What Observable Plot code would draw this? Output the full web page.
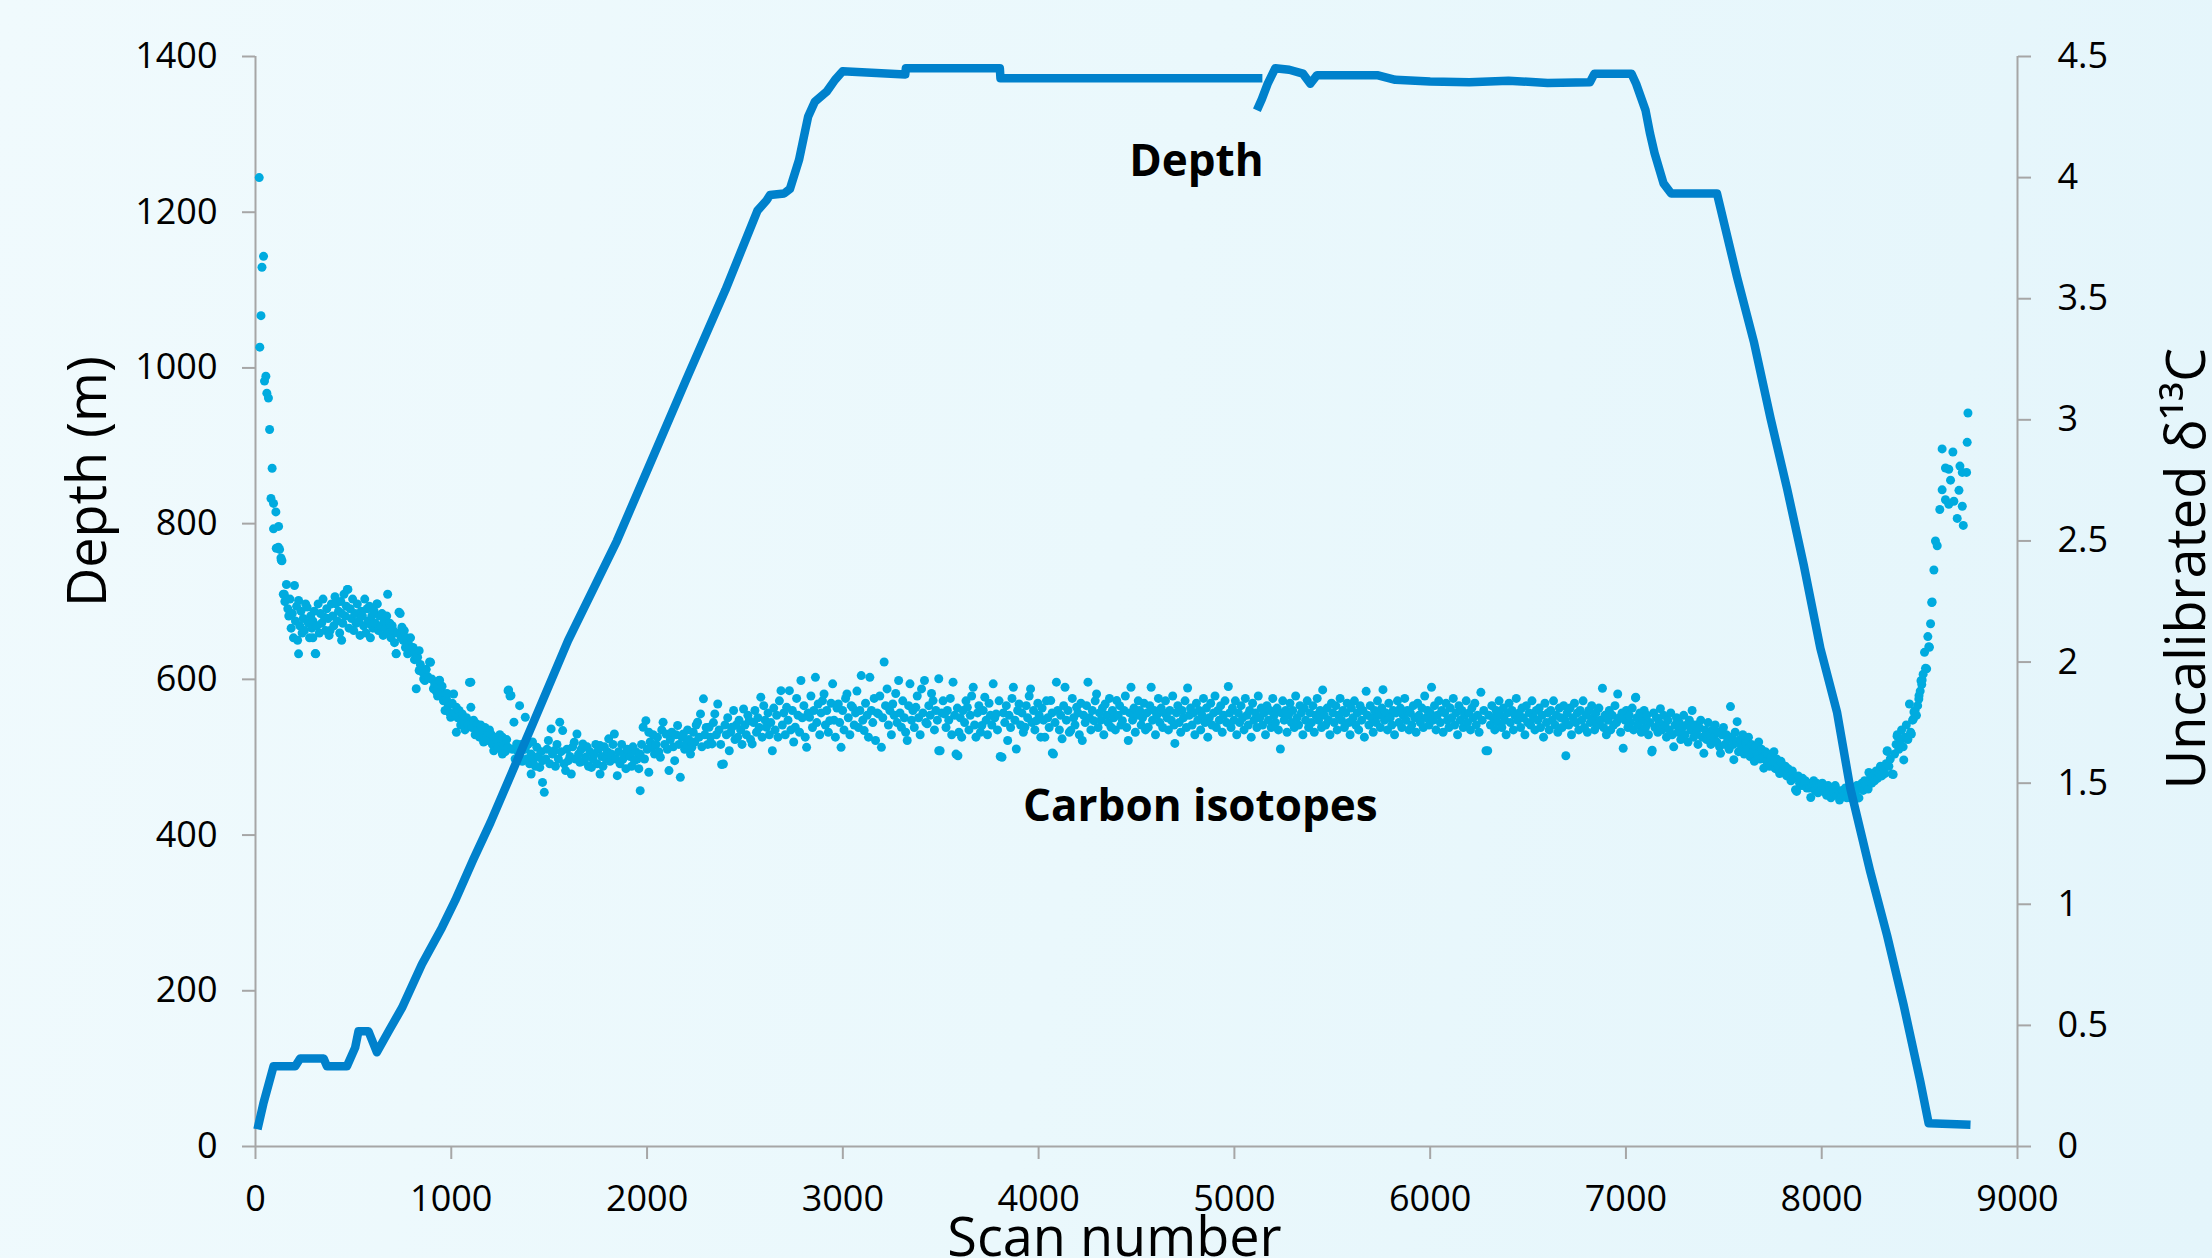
<!DOCTYPE html>
<html><head><meta charset="utf-8">
<script src="https://cdn.jsdelivr.net/npm/d3@7"></script>
<script src="https://cdn.jsdelivr.net/npm/@observablehq/plot@0.6"></script>
<style>
html,body{margin:0;padding:0;overflow:hidden;width:2212px;height:1258px;background:linear-gradient(100deg,#f0fafd 0%,#eaf8fc 50%,#e4f5fb 100%);}
#chart svg{display:block}
</style></head><body><div id="chart"></div>
<script>
// ---- tick values ----
const xTicks = [0,1000,2000,3000,4000,5000,6000,7000,8000,9000];
const depthTicks = [0,200,400,600,800,1000,1200,1400];
const isoTicks = [0,0.5,1,1.5,2,2.5,3,3.5,4,4.5];

// ---- depth trace (scan number, depth in m, trace part) ----
const depthScan = [10,40,92,203,228,348,365,467,509,526,577,620,680,748,850,952,1020,1113,1200,1420,1597,1846,2000,2200,2400,2564,2610,2628,2700,2730,2776,2823,2857,2918,2960,2999,3319,3322,3802,3805,5143,
  5115,5140,5170,5209,5280,5350,5388,5422,5729,5822,6000,6200,6400,6600,6816,6839,7028,7052,7100,7123,7146,7192,7231,7465,7568,7653,7738,7823,7908,7993,8078,8146,8248,8334,8419,8504,8546,8760];
const depthValue = [22,55,103,103,113,113,103,103,127,148,148,121,148,178,234,281,316,369,416,545,650,778,868,985,1100,1202,1215,1222,1224,1230,1267,1323,1342,1355,1370,1381,1377,1385,1385,1372,1372,
  1331,1345,1365,1385,1383,1378,1365,1376,1376,1370,1368,1367,1369,1366,1367,1378,1378,1365,1331,1301,1276,1237,1224,1224,1116,1034,936,845,747,640,558,460,353,271,181,83,30,28];
const depthPart = depthScan.map((s, i) => i < 41 ? "a" : "b");

// ---- carbon isotopes [scan, uncalibrated d13C] ----
const isoDrop = [[19,4.0],[22,3.30],[28,3.43],[33,3.63],[41,3.675],[46,3.16],[53,3.18],[58,3.11],[66,3.09],[72,2.96],[79,2.675],[85,2.80],[92,2.655],[92,2.55],[104,2.62],[106,2.47],[117,2.474],[118,2.56],[123,2.465],[130,2.43],[132,2.42],[135,2.418]];
const isoShelf = [[142,2.28],[147,2.28],[150,2.25],[158,2.32],[165,2.22],[170,2.19],[176,2.26],[182,2.14],[188,2.20],[194,2.10],[199,2.316],[204,2.17],[210,2.23],[215,2.09],[220,2.254],[220,2.034],[226,2.15],[232,2.21],[238,2.12],[244,2.18],[250,2.13],[256,2.24],[264,2.227],[270,2.16],[276,2.10],[282,2.19],[288,2.14],[293,2.17],[293,2.10],[300,2.21],[305,2.035],[308,2.034],[314,2.15],[320,2.24],[326,2.12],[332,2.20],[338,2.16],[345,2.26],[352,2.185],[358,2.13],[364,2.22],[370,2.18],[376,2.11],[381,2.13],[388,2.24],[394,2.19],[400,2.15],[406,2.27],[411,2.24],[418,2.17],[424,2.21],[430,2.12],[436,2.25],[440,2.20],[440,2.09],[446,2.16],[452,2.28],[458,2.19],[464,2.23],[469,2.30],[472,2.30],[478,2.14],[484,2.22],[490,2.18],[496,2.26],[502,2.13],[508,2.20],[514,2.16],[520,2.24],[528,2.17],[534,2.11],[540,2.21],[546,2.19],[552,2.15],[558,2.26],[564,2.12],[570,2.22],[576,2.17],[582,2.23],[587,2.157],[587,2.10],[594,2.19],[600,2.14],[606,2.21],[612,2.16],[620,2.24],[622,2.24],[628,2.13],[634,2.19],[640,2.15],[646,2.20],[652,2.11],[658,2.17],[664,2.14],[670,2.19],[675,2.28],[680,2.12],[686,2.16],[692,2.10],[698,2.15],[704,2.13],[710,2.08],[718,2.034],[719,2.035],[724,2.12],[733,2.206],[739,2.20],[744,2.10],[748,2.144],[754,2.09],[760,2.13],[766,2.06],[772,2.10],[777,2.034],[785,2.07],[792,2.10],[798,2.04],[805,2.06],[812,2.01],[816,2.04],[821,1.89]];
const isoDecline = [[828,2.02],[836,2.047],[836,1.965],[842,1.99],[850,1.96],[859,1.93],[865,1.924],[872,1.97],[880,1.94],[889,2.0],[894,1.999],[900,1.93],[909,1.89],[915,1.91],[922,1.88],[930,1.86],[938,1.924],[940,1.925],[946,1.87],[953,1.90],[960,1.84],[968,1.868],[968,1.80],[975,1.85],[978,1.87],[985,1.82],[992,1.79],[997,1.772],[1005,1.83],[1012,1.868],[1018,1.79],[1026,1.813],[1026,1.71],[1033,1.77],[1040,1.80],[1048,1.74],[1056,1.786],[1062,1.75],[1070,1.72],[1078,1.77],[1086,1.74],[1093,1.916],[1100,1.813],[1100,1.917],[1106,1.73],[1114,1.76],[1122,1.70],[1129,1.745],[1136,1.72],[1144,1.69],[1150,1.74],[1158,1.71],[1165,1.67],[1172,1.73],[1180,1.69],[1188,1.676],[1195,1.72],[1202,1.703],[1210,1.66],[1217,1.634],[1224,1.69],[1232,1.676],[1240,1.65],[1248,1.70],[1255,1.64],[1261,1.62],[1261,1.69],[1268,1.66],[1276,1.63],[1283,1.68],[1290,1.648],[1290,1.882],[1293,1.885],[1300,1.86],[1305,1.862]];
const isoLow = [[1312,1.64],[1320,1.752],[1326,1.60],[1334,1.662],[1340,1.63],[1349,1.607],[1349,1.82],[1356,1.66],[1363,1.59],[1370,1.64],[1378,1.641],[1378,1.772],[1385,1.60],[1392,1.66],[1400,1.58],[1408,1.62],[1408,1.538],[1415,1.67],[1422,1.60],[1430,1.57],[1437,1.648],[1444,1.61],[1452,1.565],[1459,1.63],[1466,1.593],[1466,1.503],[1475,1.462],[1482,1.60],[1489,1.64],[1496,1.676],[1503,1.58],[1510,1.724],[1517,1.62],[1525,1.634],[1532,1.57],[1540,1.66],[1547,1.60],[1554,1.752],[1561,1.63],[1569,1.717],[1576,1.58],[1584,1.552],[1591,1.64],[1598,1.593],[1606,1.61],[1613,1.538],[1620,1.65],[1628,1.669],[1635,1.60],[1642,1.703],[1650,1.62],[1657,1.586],[1664,1.64],[1672,1.662],[1679,1.59],[1686,1.607],[1694,1.65],[1701,1.57],[1708,1.63],[1716,1.565],[1723,1.60],[1730,1.62],[1738,1.66],[1745,1.58],[1752,1.64],[1760,1.538],[1760,1.655],[1768,1.61],[1775,1.57],[1782,1.65],[1790,1.60],[1797,1.63],[1804,1.683],[1811,1.59],[1818,1.62],[1826,1.66],[1833,1.703],[1840,1.60],[1848,1.531],[1855,1.63],[1862,1.58],[1870,1.66],[1877,1.60],[1884,1.62],[1892,1.56],[1899,1.64],[1906,1.634],[1914,1.61],[1921,1.57],[1928,1.65],[1936,1.593],[1943,1.63],[1950,1.60],[1958,1.56],[1965,1.469],[1965,1.62],[1972,1.66],[1980,1.731],[1987,1.60],[1994,1.758],[2001,1.64],[2009,1.71],[2009,1.545]];
const isoRise = [[2016,1.67],[2024,1.648],[2031,1.70],[2038,1.62],[2046,1.66],[2053,1.69],[2060,1.63],[2068,1.607],[2075,1.72],[2082,1.752],[2090,1.66],[2097,1.703],[2104,1.64],[2112,1.552],[2119,1.68],[2126,1.71],[2134,1.65],[2141,1.593],[2148,1.70],[2156,1.738],[2163,1.66],[2170,1.524],[2178,1.69],[2185,1.703],[2192,1.64],[2200,1.662],[2207,1.72],[2214,1.68],[2222,1.62],[2229,1.648],[2236,1.71],[2244,1.67],[2251,1.74],[2258,1.752],[2266,1.69],[2273,1.786],[2280,1.65],[2288,1.848],[2295,1.70],[2302,1.73],[2310,1.66],[2317,1.731],[2324,1.69],[2332,1.662],[2339,1.75],[2346,1.786],[2354,1.70],[2361,1.827],[2368,1.72],[2376,1.66],[2381,1.577],[2390,1.579],[2398,1.74],[2405,1.70],[2412,1.77],[2420,1.634],[2427,1.71],[2434,1.731],[2442,1.80],[2449,1.68],[2456,1.74],[2463,1.69],[2470,1.76],[2478,1.72],[2485,1.66],[2493,1.806],[2500,1.74],[2507,1.70],[2515,1.78],[2522,1.758],[2529,1.68],[2537,1.662],[2544,1.75],[2551,1.80],[2559,1.71],[2566,1.77],[2573,1.73],[2581,1.855],[2588,1.69],[2596,1.82],[2603,1.76],[2610,1.731],[2618,1.79],[2625,1.70],[2632,1.75],[2640,1.634]];
const isoPlateauA = [[2647,1.81],[2654,1.72],[2662,1.78],[2669,1.69],[2676,1.84],[2684,1.882],[2691,1.74],[2698,1.79],[2706,1.70],[2713,1.813],[2720,1.76],[2727,1.882],[2735,1.72],[2742,1.80],[2749,1.67],[2757,1.731],[2764,1.85],[2771,1.78],[2779,1.71],[2786,1.924],[2793,1.77],[2801,1.82],[2808,1.69],[2815,1.648],[2823,1.79],[2830,1.772],[2837,1.86],[2845,1.73],[2852,1.80],[2860,1.937],[2867,1.75],[2874,1.827],[2882,1.70],[2889,1.79],[2896,1.84],[2904,1.868],[2911,1.74],[2918,1.80],[2926,1.71],[2933,1.758],[2940,1.83],[2948,1.91],[2955,1.76],[2962,1.69],[2970,1.81],[2977,1.827],[2984,1.75],[2991,1.648],[2999,1.80],[3006,1.72],[3014,1.85],[3021,1.868],[3028,1.77],[3036,1.70],[3043,1.82],[3050,1.813],[3058,1.74],[3065,1.79],[3072,1.88],[3080,1.73],[3087,1.80],[3094,1.944],[3102,1.76],[3109,1.717],[3116,1.83],[3124,1.78],[3131,1.69],[3138,1.937],[3146,1.80],[3153,1.75],[3160,1.85],[3167,1.676],[3175,1.79],[3182,1.786],[3189,1.86],[3197,1.648],[3204,1.77],[3211,2.0],[3218,1.82],[3226,1.889],[3233,1.74],[3240,1.80],[3248,1.70],[3255,1.827],[3262,1.78],[3270,1.87],[3277,1.75],[3285,1.924],[3292,1.79],[3299,1.731],[3306,1.84],[3314,1.77],[3321,1.71],[3329,1.676],[3336,1.82],[3343,1.91],[3351,1.76],[3358,1.80],[3365,1.73],[3373,1.813],[3380,1.86],[3387,1.77],[3395,1.70],[3402,1.889],[3409,1.79],[3417,1.924],[3424,1.75],[3431,1.745],[3439,1.82],[3446,1.78],[3453,1.87],[3461,1.841],[3468,1.72],[3475,1.80],[3483,1.76],[3490,1.931],[3490,1.634],[3497,1.634],[3505,1.79],[3512,1.84],[3519,1.786],[3527,1.73],[3534,1.80],[3541,1.76],[3549,1.85],[3556,1.70],[3563,1.917],[3571,1.78],[3578,1.62],[3585,1.81],[3588,1.613],[3593,1.71],[3600,1.77]];
const isoPlateauB = [[3607,1.69],[3614,1.80],[3622,1.75],[3629,1.84],[3636,1.813],[3644,1.72],[3651,1.78],[3658,1.86],[3666,1.896],[3673,1.74],[3680,1.69],[3688,1.79],[3695,1.82],[3703,1.71],[3710,1.738],[3717,1.80],[3725,1.855],[3732,1.76],[3739,1.70],[3747,1.83],[3754,1.78],[3761,1.74],[3768,1.91],[3776,1.77],[3783,1.786],[3790,1.72],[3798,1.84],[3804,1.61],[3813,1.607],[3820,1.79],[3827,1.75],[3835,1.82],[3842,1.676],[3849,1.78],[3857,1.73],[3864,1.85],[3871,1.896],[3879,1.76],[3886,1.641],[3893,1.80],[3900,1.827],[3908,1.74],[3915,1.79],[3922,1.71],[3930,1.731],[3937,1.82],[3944,1.77],[3952,1.86],[3959,1.889],[3966,1.75],[3974,1.80],[3981,1.72],[3989,1.758],[3996,1.83],[4003,1.78],[4011,1.69],[4018,1.81],[4025,1.76],[4032,1.69],[4040,1.84],[4047,1.77],[4054,1.73],[4062,1.841],[4069,1.79],[4070,1.625],[4076,1.62],[4084,1.75],[4091,1.917],[4098,1.80],[4106,1.72],[4113,1.78],[4120,1.683],[4128,1.82],[4135,1.896],[4142,1.76],[4150,1.80],[4157,1.71],[4164,1.717],[4172,1.85],[4179,1.77],[4186,1.74],[4194,1.813],[4201,1.79],[4208,1.70],[4216,1.83],[4223,1.676],[4230,1.78],[4238,1.75],[4245,1.82],[4252,1.917],[4260,1.77],[4267,1.72],[4274,1.80],[4282,1.758],[4289,1.84],[4296,1.868],[4304,1.73],[4311,1.79],[4318,1.76],[4326,1.81],[4333,1.70],[4340,1.827],[4348,1.78],[4355,1.75],[4362,1.85],[4370,1.731],[4377,1.80],[4384,1.77],[4392,1.72],[4399,1.841],[4406,1.78],[4414,1.82],[4421,1.74],[4428,1.758],[4436,1.80],[4443,1.86],[4450,1.73],[4458,1.676],[4465,1.79],[4472,1.896],[4480,1.76],[4487,1.81],[4494,1.71],[4502,1.78],[4509,1.84],[4516,1.80],[4524,1.74],[4531,1.77],[4538,1.83],[4546,1.72],[4553,1.79],[4560,1.731],[4568,1.82],[4575,1.896],[4582,1.76],[4590,1.80],[4597,1.70],[4604,1.78],[4612,1.85],[4619,1.75],[4626,1.81],[4634,1.73],[4641,1.79],[4648,1.84],[4656,1.77],[4663,1.72],[4670,1.80],[4678,1.76],[4685,1.86],[4692,1.74],[4696,1.664],[4704,1.79],[4711,1.82],[4718,1.75],[4726,1.71],[4733,1.80],[4740,1.77],[4748,1.84],[4755,1.73],[4761,1.893],[4769,1.78],[4776,1.81],[4784,1.74],[4791,1.79],[4798,1.70],[4806,1.83],[4813,1.76],[4820,1.80],[4828,1.72],[4835,1.78],[4842,1.85],[4850,1.75],[4857,1.81],[4864,1.69],[4872,1.77],[4879,1.83],[4886,1.74],[4894,1.79],[4901,1.86],[4908,1.73],[4916,1.80],[4923,1.76],[4930,1.82],[4938,1.71],[4945,1.78],[4952,1.84],[4960,1.75],[4969,1.899],[4976,1.79],[4983,1.73],[4990,1.81],[4998,1.76],[5005,1.84],[5012,1.70],[5020,1.79],[5027,1.75],[5034,1.82],[5042,1.77],[5049,1.72],[5056,1.85],[5064,1.78],[5071,1.74],[5078,1.80],[5086,1.69],[5093,1.83],[5100,1.76],[5108,1.79],[5115,1.73],[5122,1.86],[5130,1.77],[5137,1.81],[5144,1.74],[5152,1.79],[5159,1.70],[5166,1.82],[5174,1.76],[5181,1.80],[5188,1.73],[5196,1.85],[5203,1.78],[5210,1.75],[5218,1.81],[5225,1.72],[5235,1.641]];
const isoPlateauC = [[5240,1.79],[5247,1.84],[5254,1.76],[5262,1.80],[5269,1.71],[5276,1.78],[5284,1.83],[5291,1.75],[5298,1.80],[5306,1.73],[5313,1.86],[5320,1.77],[5328,1.74],[5335,1.82],[5342,1.79],[5350,1.70],[5357,1.81],[5364,1.76],[5372,1.84],[5379,1.73],[5386,1.79],[5394,1.75],[5401,1.82],[5408,1.71],[5416,1.78],[5423,1.85],[5430,1.76],[5438,1.80],[5445,1.73],[5451,1.885],[5459,1.78],[5466,1.74],[5474,1.81],[5481,1.76],[5488,1.70],[5496,1.83],[5503,1.79],[5510,1.75],[5518,1.82],[5525,1.72],[5532,1.78],[5540,1.85],[5547,1.76],[5554,1.80],[5562,1.73],[5569,1.79],[5576,1.83],[5584,1.75],[5591,1.70],[5598,1.81],[5606,1.77],[5613,1.84],[5620,1.74],[5628,1.79],[5635,1.72],[5642,1.82],[5650,1.76],[5657,1.80],[5664,1.69],[5673,1.879],[5680,1.78],[5687,1.74],[5694,1.82],[5702,1.77],[5709,1.71],[5716,1.80],[5724,1.75],[5731,1.84],[5738,1.78],[5746,1.73],[5753,1.81],[5759,1.886],[5767,1.76],[5774,1.79],[5782,1.72],[5789,1.83],[5796,1.77],[5804,1.74],[5811,1.80],[5818,1.70],[5826,1.79],[5833,1.84],[5840,1.75],[5848,1.81],[5855,1.73],[5862,1.78],[5870,1.85],[5877,1.76],[5884,1.80],[5892,1.72],[5899,1.79],[5906,1.74],[5914,1.82],[5921,1.77],[5928,1.71],[5936,1.83],[5943,1.78],[5950,1.75],[5958,1.81],[5965,1.73],[5972,1.86],[5980,1.77],[5987,1.80],[5994,1.74],[6001,1.79],[6007,1.896],[6015,1.76],[6022,1.82],[6030,1.72],[6037,1.78],[6044,1.84],[6052,1.75],[6059,1.80],[6066,1.71],[6074,1.79],[6081,1.83],[6088,1.76],[6096,1.73],[6103,1.81],[6110,1.77],[6118,1.85],[6125,1.74],[6132,1.79],[6140,1.70],[6147,1.82],[6154,1.76],[6162,1.80],[6169,1.73],[6176,1.78],[6184,1.84],[6191,1.75],[6198,1.79],[6206,1.72],[6213,1.81],[6220,1.77],[6228,1.83],[6235,1.74],[6242,1.78],[6250,1.71],[6259,1.875],[6266,1.76],[6274,1.80],[6285,1.634],[6294,1.634],[6300,1.78],[6308,1.74],[6315,1.82],[6322,1.77],[6330,1.72],[6337,1.80],[6344,1.75],[6352,1.84],[6359,1.78],[6366,1.73],[6374,1.81],[6381,1.76],[6388,1.70],[6396,1.79],[6403,1.83],[6410,1.75],[6418,1.80],[6425,1.72],[6432,1.78],[6440,1.85],[6447,1.76],[6454,1.79],[6462,1.73],[6469,1.81],[6476,1.77],[6484,1.70],[6491,1.82],[6498,1.75],[6506,1.79],[6513,1.74],[6520,1.84],[6528,1.77],[6535,1.72],[6542,1.80],[6550,1.76],[6557,1.81],[6564,1.73],[6572,1.78],[6579,1.69],[6586,1.83],[6594,1.75],[6601,1.79],[6608,1.72],[6616,1.80],[6623,1.76],[6630,1.84],[6638,1.74],[6645,1.78],[6652,1.71],[6660,1.81],[6667,1.77],[6674,1.73],[6682,1.82],[6689,1.76],[6693,1.613],[6700,1.79],[6708,1.74],[6715,1.81],[6722,1.70],[6730,1.77],[6737,1.83],[6744,1.75],[6752,1.79],[6759,1.72],[6766,1.80],[6774,1.76],[6781,1.84],[6788,1.73],[6796,1.78],[6803,1.71],[6810,1.80],[6818,1.75],[6825,1.82],[6832,1.77],[6840,1.72],[6847,1.79],[6854,1.74],[6862,1.81],[6869,1.76],[6880,1.892],[6886,1.73],[6893,1.78],[6900,1.70]];
const isoFall = [[6908,1.76],[6915,1.80],[6922,1.72],[6930,1.78],[6937,1.74],[6944,1.82],[6952,1.75],[6958,1.868],[6966,1.77],[6973,1.71],[6980,1.79],[6986,1.644],[6995,1.76],[7002,1.80],[7010,1.73],[7017,1.78],[7024,1.75],[7032,1.81],[7039,1.72],[7049,1.852],[7050,1.855],[7056,1.77],[7063,1.74],[7071,1.79],[7078,1.71],[7085,1.76],[7093,1.80],[7100,1.73],[7107,1.78],[7115,1.70],[7122,1.75],[7132,1.629],[7134,1.636],[7141,1.79],[7148,1.73],[7156,1.77],[7163,1.71],[7170,1.75],[7176,1.807],[7185,1.72],[7192,1.78],[7200,1.74],[7207,1.69],[7214,1.76],[7222,1.72],[7229,1.79],[7236,1.70],[7244,1.65],[7251,1.74],[7258,1.77],[7266,1.71],[7273,1.75],[7280,1.68],[7288,1.73],[7295,1.78],[7302,1.70],[7310,1.74],[7317,1.67],[7324,1.76],[7332,1.72],[7338,1.80],[7346,1.69],[7353,1.74],[7360,1.71],[7368,1.66],[7375,1.73],[7382,1.76],[7390,1.69],[7398,1.623],[7405,1.72],[7412,1.68],[7420,1.75],[7427,1.70],[7434,1.66],[7442,1.72],[7449,1.69],[7456,1.74],[7464,1.67],[7471,1.71],[7478,1.65],[7483,1.623],[7491,1.70],[7498,1.73],[7506,1.66],[7513,1.70],[7520,1.68],[7527,1.64],[7534,1.816],[7542,1.69],[7549,1.66],[7551,1.597],[7558,1.71],[7566,1.67],[7568,1.754],[7575,1.63],[7582,1.68],[7590,1.65],[7597,1.70],[7604,1.62],[7612,1.67],[7619,1.64],[7626,1.69],[7634,1.61],[7641,1.66],[7648,1.63],[7656,1.59],[7663,1.65],[7670,1.62],[7678,1.67],[7685,1.60],[7692,1.64],[7700,1.61],[7704,1.562],[7712,1.63],[7719,1.59],[7726,1.62],[7734,1.57],[7741,1.61],[7748,1.58],[7756,1.63],[7763,1.56],[7770,1.60],[7778,1.57],[7785,1.54],[7792,1.59],[7800,1.55],[7806,1.544],[7814,1.57],[7821,1.53],[7828,1.56],[7836,1.53],[7843,1.51],[7850,1.55],[7858,1.52],[7866,1.473],[7872,1.466],[7880,1.53],[7887,1.50],[7894,1.49],[7902,1.52],[7909,1.49],[7916,1.51],[7924,1.48],[7931,1.50],[7938,1.48],[7944,1.441],[7952,1.49],[7959,1.51],[7966,1.47],[7974,1.50],[7981,1.46],[7988,1.49],[7996,1.47],[8003,1.50],[8011,1.465],[8018,1.48],[8025,1.45],[8033,1.49],[8040,1.47],[8047,1.44],[8055,1.48],[8062,1.46],[8069,1.49],[8077,1.45],[8084,1.47],[8091,1.43],[8096,1.439],[8106,1.47],[8113,1.45],[8121,1.48],[8128,1.44],[8135,1.46],[8147,1.439],[8150,1.47],[8157,1.45],[8165,1.48],[8172,1.46],[8179,1.49],[8184,1.44],[8190,1.439],[8197,1.48],[8205,1.50],[8212,1.47],[8219,1.51],[8227,1.49],[8237,1.476],[8241,1.544],[8248,1.52],[8256,1.50],[8263,1.53],[8270,1.51],[8278,1.55],[8285,1.52],[8292,1.54],[8300,1.57],[8307,1.53],[8314,1.56],[8322,1.54],[8329,1.58],[8334,1.631],[8335,1.634],[8343,1.57],[8350,1.60],[8360,1.538],[8365,1.536]];
const isoTail = [[8372,1.62],[8380,1.66],[8385,1.694],[8386,1.70],[8394,1.64],[8401,1.67],[8408,1.72],[8416,1.65],[8419,1.596],[8425,1.69],[8432,1.74],[8440,1.68],[8448,1.827],[8454,1.71],[8458,1.703],[8464,1.76],[8468,1.765],[8471,1.794],[8477,1.80],[8484,1.78],[8490,1.82],[8496,1.847],[8497,1.861],[8503,1.88],[8507,1.923],[8511,1.907],[8513,1.926],[8518,1.95],[8525,2.04],[8530,1.974],[8536,1.972],[8542,2.105],[8547,2.063],[8550,2.061],[8556,2.158],[8562,2.246],[8564,2.248],[8573,2.38],[8581,2.50],[8590,2.48],[8603,2.63],[8615,2.711],[8615,2.88],[8632,2.801],[8632,2.67],[8649,2.796],[8649,2.651],[8658,2.751],[8670,2.867],[8675,2.664],[8692,2.593],[8701,2.709],[8706,2.809],[8718,2.783],[8718,2.643],[8723,2.564],[8740,2.783],[8743,2.907],[8747,3.028]];

// ---- in-chart labels ----
const seriesLabels = ["Depth", "Carbon isotopes"];
const labelScan = [4806, 4826];
const labelDepth = [1264, 436];

// ---- build tables ----
const depthMax = 1400, isoMax = 4.5;
const isoToDepth = v => v * depthMax / isoMax;
const depthData = depthScan.map((s, i) => ({scan: s, depth: depthValue[i], part: depthPart[i]}));
const isoData = [...isoDrop, ...isoShelf, ...isoDecline, ...isoLow, ...isoRise, ...isoPlateauA, ...isoPlateauB, ...isoPlateauC, ...isoFall, ...isoTail]
  .map(([scan, value]) => ({scan, value}));
const labelData = seriesLabels.map((t, i) => ({text: t, scan: labelScan[i], depth: labelDepth[i]}));

const axisGray = "#a6a6a6";
const tickFont = 36;

const chart = Plot.plot({
  width: 2212,
  height: 1258,
  marginLeft: 255,
  marginRight: 195,
  marginTop: 56,
  marginBottom: 112,
  x: {domain: [0, 9000]},
  y: {domain: [0, depthMax]},
  style: {fontFamily: "'Open Sans', sans-serif", fontSize: "36px", color: "#000", background: "transparent", overflow: "visible"},
  marks: [
    Plot.ruleY([0], {stroke: axisGray, strokeWidth: 2}),
    Plot.ruleX([0, 9000], {stroke: axisGray, strokeWidth: 2}),
    Plot.axisX(xTicks, {anchor: "bottom", tickSize: 13, tickPadding: 26, stroke: axisGray, strokeWidth: 2, fill: "#000", fontSize: tickFont, label: null, tickFormat: d => String(d)}),
    Plot.axisY(depthTicks, {anchor: "left", tickSize: 13, tickPadding: 25, stroke: axisGray, strokeWidth: 2, fill: "#000", fontSize: tickFont, label: null, tickFormat: d => String(d)}),
    Plot.axisY(isoTicks.map(isoToDepth), {anchor: "right", tickSize: 13, tickPadding: 27, stroke: axisGray, strokeWidth: 2, fill: "#000", fontSize: tickFont, label: null,
      tickFormat: d => String(Math.round(d * isoMax / depthMax * 10) / 10)}),
    Plot.dot(isoData, {x: "scan", y: d => isoToDepth(d.value), r: 4.5, fill: "#00abdf", stroke: null}),
    Plot.line(depthData, {x: "scan", y: "depth", z: "part", stroke: "#0081cc", strokeWidth: 8.5, strokeLinejoin: "round", strokeLinecap: "butt"}),
    Plot.text(labelData, {x: "scan", y: "depth", text: "text", fontSize: 44, fontWeight: "bold", fill: "#000", textAnchor: "middle"}),
    Plot.text(["Scan number"], {frameAnchor: "bottom", textAnchor: "middle", lineAnchor: "middle", dx: -22, dy: 92, fontSize: 54, fill: "#000"}),
    Plot.text(["Depth (m)"], {frameAnchor: "left", textAnchor: "middle", lineAnchor: "middle", rotate: -90, dx: -167, dy: -120, fontSize: 54, fill: "#000"}),
    Plot.text(["Uncalibrated δ¹³C"], {frameAnchor: "right", textAnchor: "middle", lineAnchor: "middle", rotate: -90, dx: 170, dy: -33, fontSize: 54, fill: "#000"})
  ]
});
document.getElementById("chart").appendChild(chart);
</script>
</body></html>
